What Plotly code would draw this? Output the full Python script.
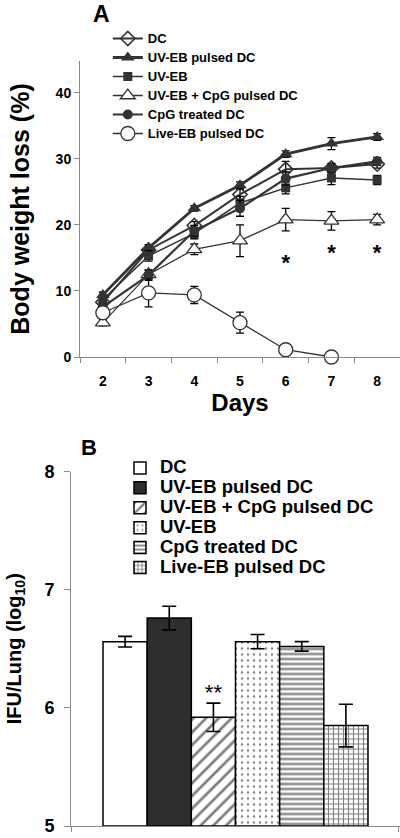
import plotly.graph_objects as go

# ---------------- Panel A data ----------------
days = [2, 3, 4, 5, 6, 7, 8]
a_names = ["DC", "UV-EB pulsed DC", "UV-EB", "UV-EB + CpG pulsed DC",
           "CpG treated DC", "Live-EB pulsed DC"]
dc = [8.3, 16.2, 19.9, 24.6, 28.4, 28.6, 29.2]
uveb_dc = [9.4, 16.5, 22.5, 26.0, 30.7, 32.3, 33.3]
uveb = [8.7, 15.3, 18.7, 23.3, 25.6, 27.1, 26.8]
uveb_cpg = [5.2, 12.5, 16.3, 17.6, 20.8, 20.6, 20.8]
cpg = [7.6, 12.4, 19.1, 22.5, 27.0, 28.6, 29.6]
live = [6.7, 9.7, 9.4, 5.2, 1.1, 0.0, None]

dc_err = [0.5, 0.5, 0.6, 0.8, 1.2, 0.6, 0.6]
uveb_dc_err = [0.4, 0.5, 0.4, 0.5, 0.5, 0.9, 0.5]
uveb_err = [0.5, 0.8, 0.8, 1.0, 0.9, 1.0, 0.7]
uveb_cpg_err = [0.5, 0.6, 0.8, 2.4, 1.7, 1.4, 0.8]
cpg_err = [0.6, 0.8, 0.8, 1.2, 1.0, 0.7, 0.6]
live_err = [0.9, 2.1, 1.3, 1.6, 0.2, 0.0, None]

star_days = [6, 7, 8]
star_y = [14.0, 15.5, 15.5]

# ---------------- Panel B data ----------------
b_names = ["DC", "UV-EB pulsed DC", "UV-EB + CpG pulsed DC", "UV-EB",
           "CpG treated DC", "Live-EB pulsed DC"]
b_vals = [6.56, 6.76, 5.92, 6.56, 6.52, 5.85]
b_errs = [0.045, 0.10, 0.12, 0.06, 0.04, 0.18]
b_star_index = 2
b_star_y = 6.11
b_y_ticks = [5, 6, 7, 8]
a_y_ticks = [0, 10, 20, 30, 40]

FONT = "Arial, Liberation Sans, sans-serif"
LC = "#333333"

fig = go.Figure()

a_series = [
    (dc, dc_err, dict(symbol="diamond-open", size=11, color=LC, line=dict(width=1.6, color=LC)), 2.0),
    (uveb_dc, uveb_dc_err, dict(symbol="triangle-up", size=12, color=LC), 2.8),
    (uveb, uveb_err, dict(symbol="square", size=9, color=LC), 1.5),
    (uveb_cpg, uveb_cpg_err, dict(symbol="triangle-up", size=13, color="white", line=dict(width=1.3, color=LC)), 1.3),
    (cpg, cpg_err, dict(symbol="circle", size=10, color=LC), 2.2),
    (live, live_err, dict(symbol="circle", size=14, color="white", line=dict(width=1.3, color=LC)), 1.3),
]
LEG_A_STYLE = "<span style='font-size:13px'>{}</span>"
for name, (vals, errs, mk, lw) in zip(a_names, a_series):
    fig.add_trace(go.Scatter(
        x=days, y=vals, name=LEG_A_STYLE.format(name), mode="lines+markers",
        line=dict(color=LC, width=lw), marker=mk,
        error_y=dict(type="data", array=errs, color="black", thickness=1.3, width=4),
        cliponaxis=False, xaxis="x", yaxis="y", legend="legend"))

fig.add_trace(go.Scatter(
    x=star_days, y=star_y, mode="text", text=["*"] * len(star_days),
    textfont=dict(size=22, color="black", family=FONT, weight="bold"), showlegend=False,
    xaxis="x", yaxis="y", cliponaxis=False))

b_styles = [
    dict(color="white", line=dict(color="black", width=1.5)),
    dict(color="#2e2e2e", line=dict(color="black", width=1.5)),
    dict(color="white", line=dict(color="black", width=1.5),
         pattern=dict(shape="/", fgcolor="black", bgcolor="white", size=9, solidity=0.3)),
    dict(color="white", line=dict(color="black", width=1.5),
         pattern=dict(shape=".", fgcolor="black", bgcolor="white", size=6, solidity=0.12)),
    dict(color="white", line=dict(color="black", width=1.5),
         pattern=dict(shape="-", fgcolor="black", bgcolor="white", size=5, solidity=0.45)),
    dict(color="white", line=dict(color="black", width=1.5),
         pattern=dict(shape="+", fgcolor="black", bgcolor="white", size=5, solidity=0.4)),
]
LEG_B_STYLE = "<span style='font-size:18.5px'>{}</span>"
for i, (name, v, e, st) in enumerate(zip(b_names, b_vals, b_errs, b_styles)):
    fig.add_trace(go.Bar(
        x=[i], y=[v - 5], base=5, width=1, name=LEG_B_STYLE.format(name), marker=st,
        error_y=dict(type="data", array=[e], color="black", thickness=1.6, width=7),
        xaxis="x2", yaxis="y2", legend="legend2"))

fig.add_trace(go.Scatter(
    x=[b_star_index], y=[b_star_y], mode="text", text=["**"],
    textfont=dict(size=22, color="black", family=FONT), showlegend=False,
    xaxis="x2", yaxis="y2", cliponaxis=False))

H = 838.0
W = 400.0
axis_color = "#8a8a8a"

fig.update_layout(
    width=400, height=838,
    margin=dict(l=0, r=0, t=0, b=0, autoexpand=False),
    paper_bgcolor="white", plot_bgcolor="white",
    font=dict(family=FONT, color="black"),
    barmode="overlay",
    showlegend=True,
    xaxis=dict(domain=[80 / W, 1.0], range=[1.5, 8.5], anchor="y", automargin=False,
               tickvals=days, ticks="", showgrid=False, zeroline=False,
               showline=True, linecolor=axis_color, linewidth=1,
               tickfont=dict(size=14, family=FONT, weight="bold"),
               ticklabelstandoff=11,
               minor=dict(tickvals=[1.5, 2.5, 3.5, 4.5, 5.5, 6.5, 7.5, 8.5],
                          ticks="outside", ticklen=5, tickcolor=axis_color),
               title=dict(text="Days", font=dict(size=24, family=FONT, weight="bold"), standoff=3)),
    yaxis=dict(domain=[1 - 357 / H, 1 - 61 / H], range=[0, 44.8], anchor="x", automargin=False,
               tickvals=a_y_ticks, ticks="outside", ticklen=5, tickcolor=axis_color,
               showgrid=False, zeroline=False, showline=True, linecolor=axis_color, linewidth=1,
               tickfont=dict(size=14, family=FONT, weight="bold"),
               title=dict(text="Body weight loss (%)", font=dict(size=25, family=FONT, weight="bold"), standoff=18)),
    xaxis2=dict(domain=[71 / W, 1.0], range=[-1.225, 6.225], anchor="y2", automargin=False,
                showticklabels=False, ticks="", showgrid=False, zeroline=False,
                showline=True, linecolor=axis_color, linewidth=1,
                minor=dict(tickvals=[-1.225, 6.2], ticks="outside", ticklen=5, tickcolor=axis_color)),
    yaxis2=dict(domain=[1 - 826 / H, 1 - 471.5 / H], range=[5, 8], anchor="x2", automargin=False,
                tickvals=b_y_ticks, ticks="outside", ticklen=6, tickcolor=axis_color,
                showgrid=False, zeroline=False, showline=True, linecolor=axis_color, linewidth=1,
                tickfont=dict(size=18, family=FONT, weight="bold"), ticklabelstandoff=6,
                ticklabeloverflow="allow",
                title=dict(text="IFU/Lung (log<sub>10</sub>)", font=dict(size=20, family=FONT, weight="bold"), standoff=17)),
    legend=dict(x=0.2695, y=1 - 24 / H, xanchor="left", yanchor="top",
                bgcolor="rgba(0,0,0,0)", tracegroupgap=0, itemwidth=30,
                font=dict(size=12, family=FONT, weight="bold", color="black")),
    legend2=dict(x=0.30, y=1 - 453 / H, xanchor="left", yanchor="top",
                 bgcolor="rgba(0,0,0,0)", tracegroupgap=0, itemwidth=30,
                 font=dict(size=13, family=FONT, weight="bold", color="black")),
    annotations=[
        dict(text="A", x=101 / W, y=1 - 14 / H, xref="paper", yref="paper",
             xanchor="center", yanchor="middle",
             showarrow=False, font=dict(size=23, family=FONT, weight="bold")),
        dict(text="B", x=89 / W, y=1 - 447 / H, xref="paper", yref="paper",
             xanchor="center", yanchor="middle",
             showarrow=False, font=dict(size=22, family=FONT, weight="bold")),
    ],
)

fig.write_html("out.html", config={"displayModeBar": False},
               post_script="document.body.style.margin='0px';")
